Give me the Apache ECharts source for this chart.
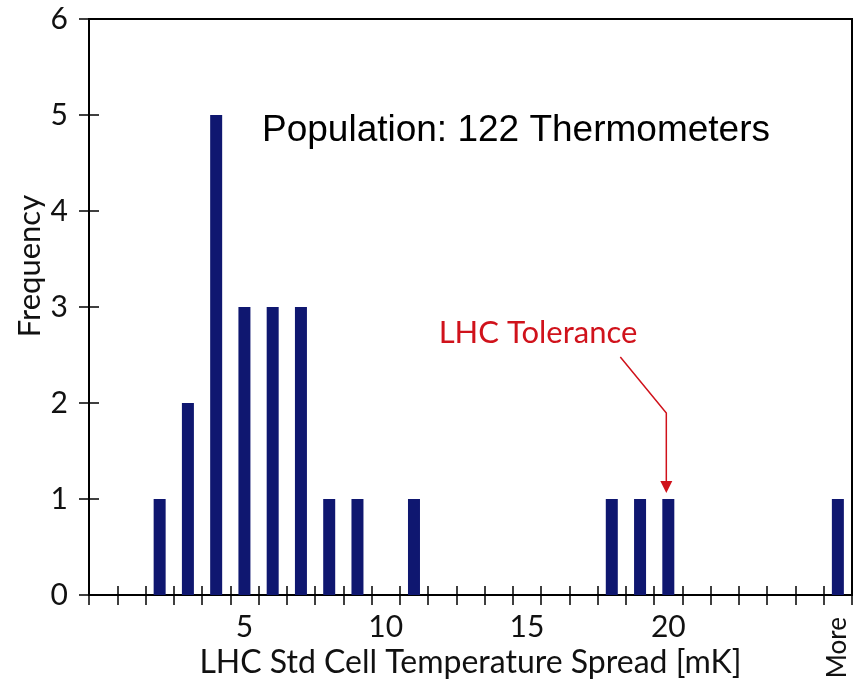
<!DOCTYPE html>
<html>
<head>
<meta charset="utf-8">
<script src="https://cdn.jsdelivr.net/npm/echarts@6/dist/echarts.min.js"></script>
<style>
  html, body { margin: 0; padding: 0; background: #fff; }
  #chart { width: 857px; height: 687px; }
</style>
</head>
<body>
<div id="chart"></div>
<script>
// 分类（温度离散度区间）
const categories = ['0', '1', '2', '3', '4', '5', '6', '7', '8', '9', '10', '11', '12', '13',
    '14', '15', '16', '17', '18', '19', '20', '21', '22', '23', '24', '25', 'More'];
// 频数
const frequency = [0, 0, 1, 2, 5, 3, 3, 3, 1, 1, 0, 1, 0, 0,
    0, 0, 0, 0, 1, 1, 1, 0, 0, 0, 0, 0, 1];
// 显示的刻度标签
const shownLabels = ['5', '10', '15', '20'];
const yTicks = { min: 0, max: 6, interval: 1 };
const toleranceCategory = '20';

const labelFont = 'Lato, "Open Sans", sans-serif';
const chart = echarts.init(document.getElementById('chart'));

const option = {
    animation: false,
    backgroundColor: '#fff',
    grid: {
        left: 89, right: 5, top: 19, bottom: 92,
        show: true,
        borderColor: '#000',
        borderWidth: 2
    },
    xAxis: [
        {
            type: 'category',
            data: categories,
            position: 'bottom',
            name: 'LHC Std Cell Temperature Spread [mK]',
            nameLocation: 'middle',
            nameGap: 52,
            nameTextStyle: { fontSize: 32, fontFamily: labelFont, color: '#111' },
            axisLine: { lineStyle: { color: '#000', width: 2 } },
            axisTick: { show: true, interval: 0, length: 10, lineStyle: { color: '#000', width: 1.5 } },
            axisLabel: {
                interval: (i, v) => shownLabels.includes(v),
                margin: 17,
                fontSize: 30,
                fontFamily: labelFont,
                color: '#111'
            }
        },
        {
            // 向内刻度 + 旋转的 More 标签
            type: 'category',
            data: categories,
            position: 'bottom',
            axisLine: { show: false },
            axisTick: { show: true, inside: true, interval: 0, length: 9, lineStyle: { color: '#000', width: 1.5 } },
            axisLabel: {
                interval: (i, v) => v === 'More',
                rotate: 90,
                margin: 22,
                fontSize: 26,
                fontFamily: labelFont,
                color: '#111'
            }
        }
    ],
    yAxis: [
        {
            type: 'value',
            min: yTicks.min, max: yTicks.max, interval: yTicks.interval,
            position: 'left',
            splitLine: { show: false },
            axisLine: { show: true, lineStyle: { color: '#000', width: 2 } },
            axisTick: { show: true, length: 10, lineStyle: { color: '#000', width: 1.5 } },
            axisLabel: { margin: 21, fontSize: 30, fontFamily: labelFont, color: '#111' }
        },
        {
            type: 'value',
            min: yTicks.min, max: yTicks.max, interval: yTicks.interval,
            position: 'left',
            splitLine: { show: false },
            axisLine: { show: false },
            axisTick: { show: true, inside: true, length: 10, lineStyle: { color: '#000', width: 1.5 } },
            axisLabel: { show: false }
        }
    ],
    series: [{
        type: 'bar',
        data: frequency,
        barWidth: 12,
        itemStyle: { color: '#0f1770' }
    }]
};

chart.setOption(option);

// 注释：标题文字与容差箭头
const tip = chart.convertToPixel({ seriesIndex: 0 }, [toleranceCategory, 1]);
const arrowX = tip[0] - 2;
const arrowTip = tip[1] - 6;
chart.setOption({
    graphic: [
        {
            type: 'text', left: 262, top: 112,
            style: { text: 'Population: 122 Thermometers', font: '37px "Liberation Sans", Arial, sans-serif', fill: '#000' }
        },
        {
            type: 'text', x: 30, y: 266, rotation: Math.PI / 2,
            style: { text: 'Frequency', font: '31px ' + labelFont, fill: '#111', align: 'center', verticalAlign: 'middle' }
        },
        {
            type: 'text', x: 538, y: 333,
            style: { text: 'LHC Tolerance', font: '31px ' + labelFont, fill: '#d0121b', align: 'center', verticalAlign: 'middle' }
        },
        {
            type: 'polyline',
            shape: { points: [[arrowX - 46, 357], [arrowX, 413], [arrowX, arrowTip - 8]] },
            style: { stroke: '#d0121b', lineWidth: 1.5, fill: null }
        },
        {
            type: 'polygon',
            shape: { points: [[arrowX - 6, arrowTip - 12], [arrowX + 6, arrowTip - 12], [arrowX, arrowTip]] },
            style: { fill: '#d0121b' }
        }
    ]
});
</script>
</body>
</html>
